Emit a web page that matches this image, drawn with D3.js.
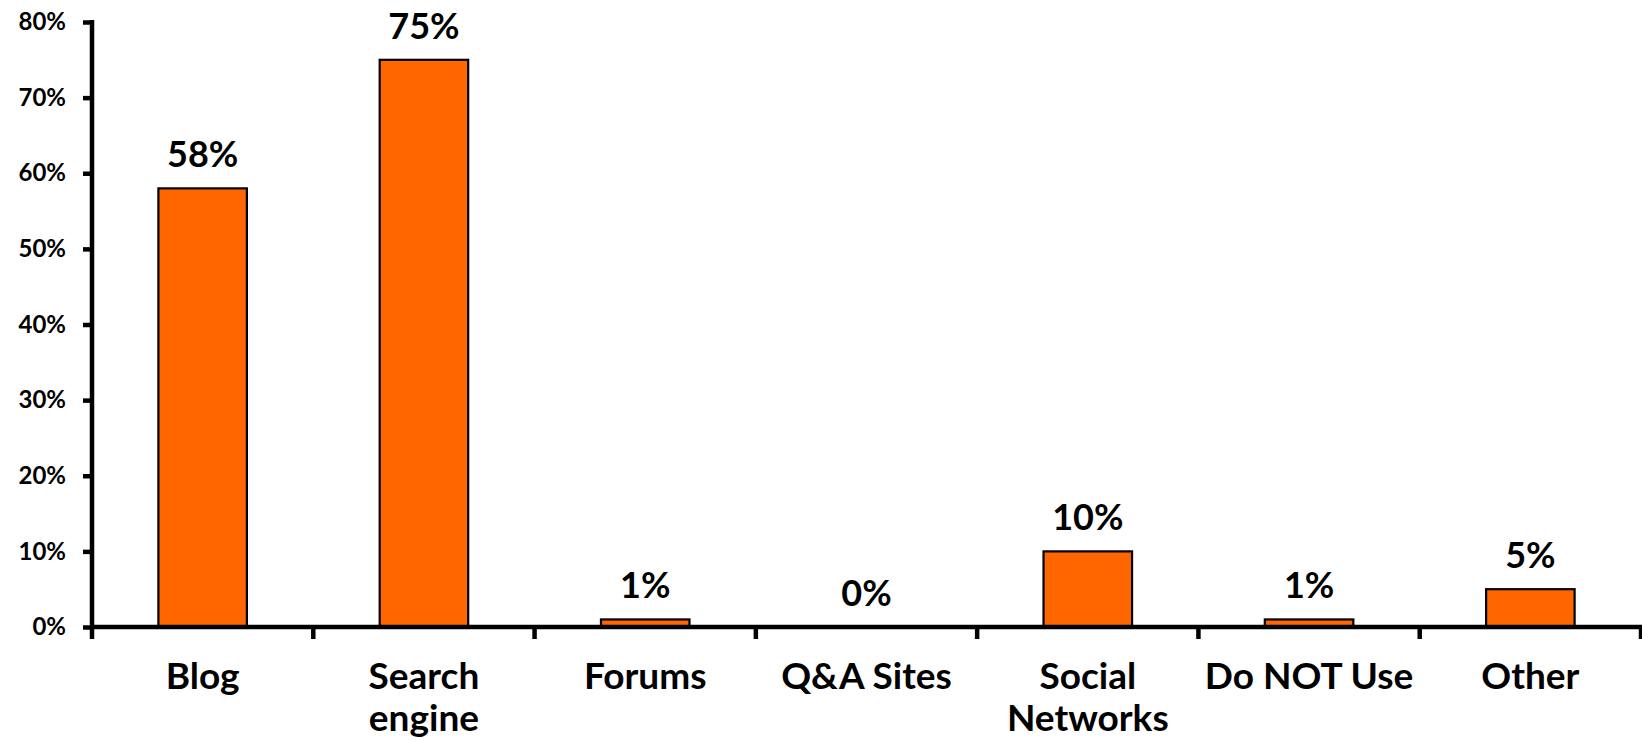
<!DOCTYPE html>
<html>
<head>
<meta charset="utf-8">
<script src="https://cdn.jsdelivr.net/npm/d3@7"></script>
<style>
  html, body { margin: 0; padding: 0; background: #fff; }
  svg { display: block; }
  text { font-family: "Lato", "DejaVu Sans", sans-serif; font-weight: 700; fill: #000; }
</style>
</head>
<body>
<svg id="chart" width="1642" height="741"></svg>
<script>
const categories = ["Blog", "Search engine", "Forums", "Q&A Sites", "Social Networks", "Do NOT Use", "Other"];
const categoryLines = [["Blog"], ["Search", "engine"], ["Forums"], ["Q&A Sites"], ["Social", "Networks"], ["Do NOT Use"], ["Other"]];
const values = [58, 75, 1, 0, 10, 1, 5];
const yTicks = [0, 10, 20, 30, 40, 50, 60, 70, 80];

(function () {
const svg = d3.select("#chart");
const mLeft = 92, mRight = 1641, mTop = 22, mBottom = 627;

const x = d3.scaleBand().domain(categories).range([mLeft, mRight]).paddingInner(0.6).paddingOuter(0.3);
const xb = d3.scaleBand().domain(categories).range([mLeft, mRight]).padding(0);
const y = d3.scaleLinear().domain([0, 80]).range([mBottom, mTop]);

// bars
svg.selectAll("rect.bar").data(values).enter().append("rect")
  .attr("class", "bar")
  .attr("x", (d, i) => x(categories[i]))
  .attr("width", x.bandwidth())
  .attr("y", d => y(d))
  .attr("height", d => y(0) - y(d))
  .attr("fill", "#FF6600")
  .attr("stroke", "#000")
  .attr("stroke-width", 2.2)
  .style("display", d => d > 0 ? null : "none");

// value labels
svg.selectAll("text.val").data(values).enter().append("text")
  .attr("class", "val")
  .attr("x", (d, i) => x(categories[i]) + x.bandwidth() / 2)
  .attr("y", d => y(d) - 21)
  .attr("text-anchor", "middle")
  .style("font-size", "36px")
  .text(d => d + "%");

// y axis
const yAxis = d3.axisLeft(y).tickValues(yTicks).tickFormat(d => d + "%").tickSize(9).tickPadding(17);
const gy = svg.append("g").attr("transform", `translate(${mLeft},0)`).call(yAxis);
gy.select(".domain").attr("stroke", "#000").attr("stroke-width", 4.5).attr("d", `M0,${mTop - 2}V${mBottom}`);
gy.selectAll(".tick line").attr("stroke", "#000").attr("stroke-width", 4.5);
gy.selectAll(".tick text").style("font-size", "24px").style("font-family", "Lato, sans-serif").style("font-weight", 700).attr("fill", "#000");

// x axis
const boundaries = categories.map(c => xb(c)).concat([mRight]);
const gx = svg.append("g");
gx.append("line").attr("x1", mLeft - 2).attr("x2", mRight + 2).attr("y1", mBottom).attr("y2", mBottom)
  .attr("stroke", "#000").attr("stroke-width", 4.5);
gx.selectAll("line.tk").data(boundaries).enter().append("line")
  .attr("class", "tk")
  .attr("x1", d => d).attr("x2", d => d)
  .attr("y1", mBottom).attr("y2", mBottom + 12)
  .attr("stroke", "#000").attr("stroke-width", 4.5);

// category labels
const lab = svg.selectAll("text.cat").data(categories).enter().append("text")
  .attr("class", "cat")
  .attr("text-anchor", "middle")
  .attr("x", c => xb(c) + xb.bandwidth() / 2)
  .attr("y", 689)
  .style("font-size", "37px");
lab.each(function(c, i) {
  const t = d3.select(this);
  categoryLines[i].forEach((line, j) => {
    t.append("tspan").attr("x", xb(c) + xb.bandwidth() / 2).attr("dy", j === 0 ? 0 : 42).text(line);
  });
});
})();
</script>
</body>
</html>
